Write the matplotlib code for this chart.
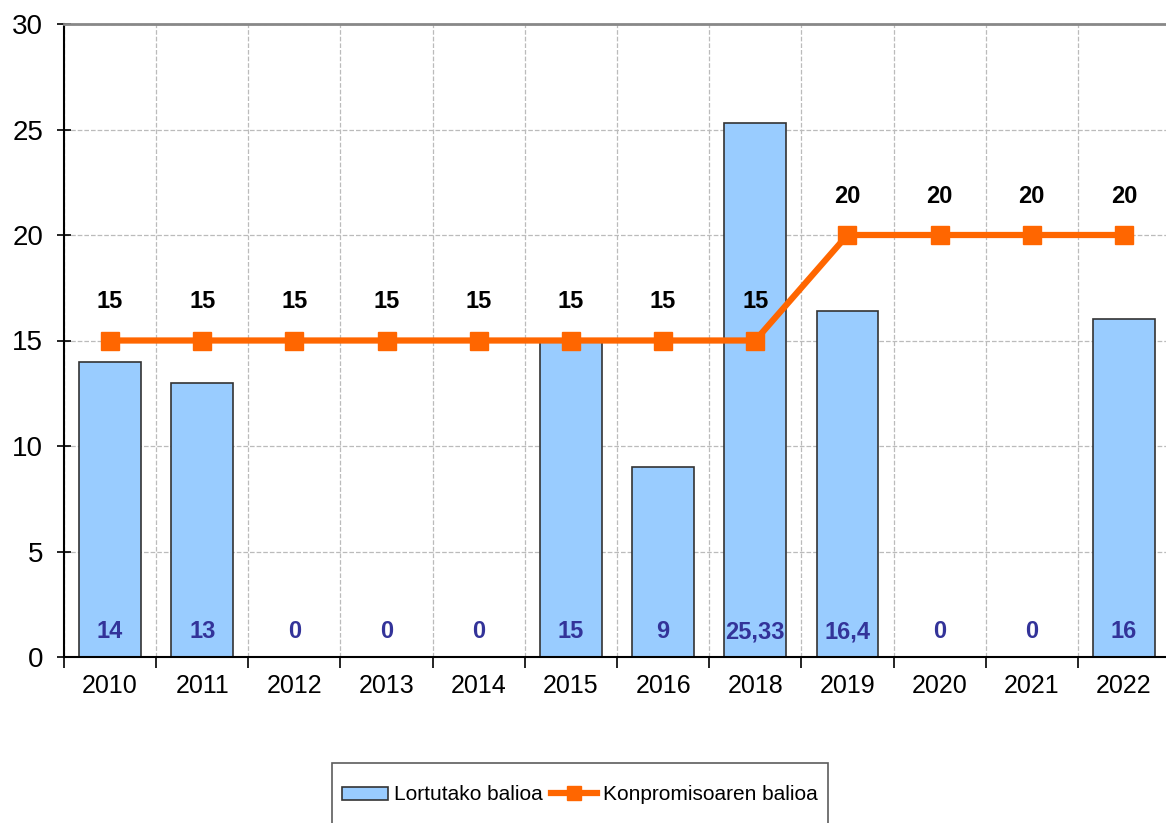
import matplotlib.pyplot as plt
import matplotlib.patches as mpatches
from matplotlib.legend_handler import HandlerPatch, HandlerLine2D
import numpy as np

# Data
years = ["2010", "2011", "2012", "2013", "2014", "2015", "2016", "2018", "2019", "2020", "2021", "2022"]
lortutako = [14, 13, 0, 0, 0, 15, 9, 25.33, 16.4, 0, 0, 16]
lortutako_labels = ["14", "13", "0", "0", "0", "15", "9", "25,33", "16,4", "0", "0", "16"]
konpromiso = [15, 15, 15, 15, 15, 15, 15, 15, 20, 20, 20, 20]

plt.rcParams['font.family'] = ['Liberation Sans', 'DejaVu Sans']

fig = plt.figure(figsize=(11.66, 8.23), dpi=100)
ax = fig.add_axes([64 / 1166, 1 - 657 / 823, 1106 / 1166, 633 / 823])

x = np.arange(len(years))
bars = ax.bar(x, lortutako, width=0.67, color="#99CCFF", edgecolor="#333333", linewidth=1.2,
              label="Lortutako balioa", zorder=2)
line, = ax.plot(x, konpromiso, color="#FF6600", linewidth=4.5, marker="s", markersize=13,
                label="Konpromisoaren balioa", zorder=3)

for xi, v in zip(x, konpromiso):
    ax.text(xi, v + 1.3, str(v), ha="center", va="bottom", fontsize=17,
            fontweight="bold", color="black", zorder=4)
for xi, lab in zip(x, lortutako_labels):
    ax.text(xi, 1.2, lab, ha="center", va="center", fontsize=17,
            fontweight="bold", color="#333399", zorder=4)

ax.set_xlim(-0.5, len(years) - 0.5)
ax.set_ylim(0, 30)
ax.set_yticks(range(0, 31, 5))
ax.tick_params(axis="y", labelsize=20, direction="inout", length=10, width=1.2, pad=10)

ax.set_xticks(x)
ax.set_xticklabels(years, fontsize=18)
ax.tick_params(axis="x", length=0, pad=12)
ax.set_xticks(np.arange(-0.5, len(years), 1), minor=True)
ax.tick_params(axis="x", which="minor", direction="out", length=8, width=1.2)

ax.grid(True, which="minor", axis="x", linestyle="--", color="#BBBBBB", linewidth=0.9, zorder=0)
ax.grid(True, which="major", axis="y", linestyle="--", color="#BBBBBB", linewidth=0.9, zorder=0)
ax.set_axisbelow(True)

ax.spines["top"].set_color("#888888")
ax.spines["top"].set_linewidth(2)
ax.spines["right"].set_visible(False)
ax.spines["left"].set_linewidth(1.5)
ax.spines["bottom"].set_linewidth(1.5)


# keep the bar swatch short while the legend row is tall
def bar_swatch(legend, orig_handle, xdescent, ydescent, width, height, fontsize):
    h = 0.65 * fontsize
    return mpatches.Rectangle((-xdescent, -ydescent + (height - h) / 2), width, h)


# drop the line swatch a little so it lines up with the text
class LoweredLine(HandlerLine2D):
    def create_artists(self, legend, orig_handle, xdescent, ydescent, width, height,
                       fontsize, trans):
        return super().create_artists(legend, orig_handle, xdescent,
                                      ydescent + 0.58 * fontsize, width, height,
                                      fontsize, trans)


bar_handle = bars.patches[0]
leg = fig.legend([bar_handle, line], ["Lortutako balioa", "Konpromisoaren balioa"],
                 loc="upper center", bbox_to_anchor=(580 / 1166, 1 - 763 / 823), ncol=2,
                 fontsize=15, frameon=True, fancybox=False, edgecolor="#333333",
                 handlelength=2.2, handleheight=2.6, handletextpad=0.3, columnspacing=0.4,
                 borderpad=0.5, borderaxespad=0, markerscale=0.8,
                 handler_map={bar_handle: HandlerPatch(patch_func=bar_swatch),
                              line: LoweredLine()})
leg.get_frame().set_linewidth(1.2)

fig.savefig("out.png", dpi=100)
